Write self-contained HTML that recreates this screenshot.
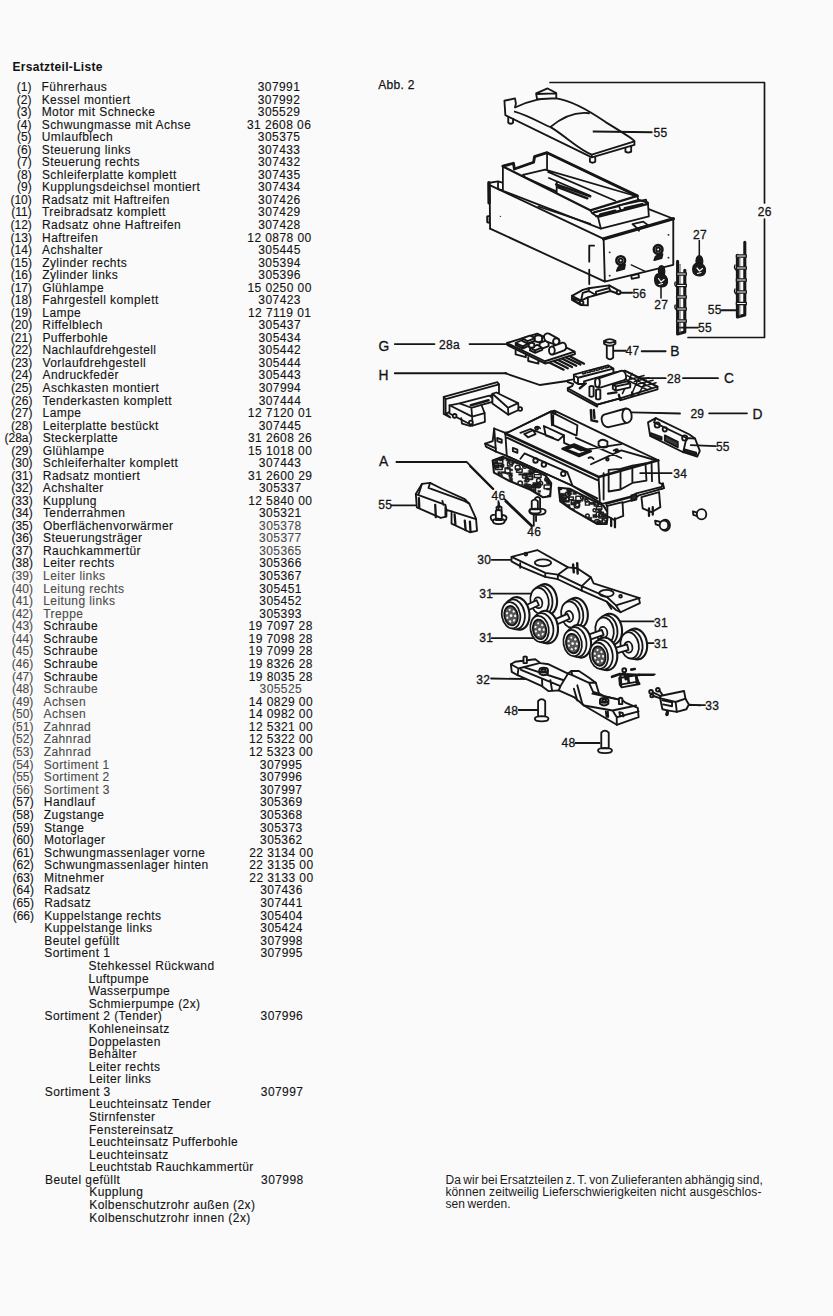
<!DOCTYPE html>
<html><head><meta charset="utf-8"><style>
html,body{margin:0;padding:0;}
body{width:833px;height:1316px;background:#fafafa;position:relative;overflow:hidden;font-family:"Liberation Sans",sans-serif;}
.p,.n,.u,.t{position:absolute;font-size:12px;line-height:14px;white-space:pre;letter-spacing:0.42px;-webkit-text-stroke:0.12px currentColor}
.p{width:100px;text-align:right;letter-spacing:0px}
.u{width:100px;text-align:center;}
.h{position:absolute;left:12.5px;top:59.5px;font-size:12px;line-height:14px;font-weight:bold;letter-spacing:0.3px;color:#111;white-space:pre}
.para div{position:absolute;left:445.5px;width:316px;font-size:12px;line-height:14px;white-space:nowrap;color:#1a1a1a;text-align:justify;text-align-last:justify;letter-spacing:0.1px;word-spacing:-1.2px}
svg{position:absolute;left:0;top:0}
</style></head><body>
<div class="h">Ersatzteil-Liste</div>
<div class="p" style="top:80.10px;left:-68.60px;color:#141414">(1)</div>
<div class="n" style="top:80.10px;left:41.60px;color:#141414">Führerhaus</div>
<div class="u" style="top:80.10px;left:229.00px;color:#141414">307991</div>
<div class="p" style="top:92.64px;left:-68.56px;color:#141414">(2)</div>
<div class="n" style="top:92.64px;left:41.64px;color:#141414">Kessel montiert</div>
<div class="u" style="top:92.64px;left:229.04px;color:#141414">307992</div>
<div class="p" style="top:105.17px;left:-68.52px;color:#141414">(3)</div>
<div class="n" style="top:105.17px;left:41.68px;color:#141414">Motor mit Schnecke</div>
<div class="u" style="top:105.17px;left:229.08px;color:#141414">305529</div>
<div class="p" style="top:117.71px;left:-68.48px;color:#141414">(4)</div>
<div class="n" style="top:117.71px;left:41.72px;color:#141414">Schwungmasse mit Achse</div>
<div class="u" style="top:117.71px;left:229.12px;color:#141414">31 2608 06</div>
<div class="p" style="top:130.25px;left:-68.44px;color:#141414">(5)</div>
<div class="n" style="top:130.25px;left:41.76px;color:#141414">Umlaufblech</div>
<div class="u" style="top:130.25px;left:229.16px;color:#141414">305375</div>
<div class="p" style="top:142.79px;left:-68.40px;color:#141414">(6)</div>
<div class="n" style="top:142.79px;left:41.80px;color:#141414">Steuerung links</div>
<div class="u" style="top:142.79px;left:229.20px;color:#141414">307433</div>
<div class="p" style="top:155.32px;left:-68.36px;color:#141414">(7)</div>
<div class="n" style="top:155.32px;left:41.84px;color:#141414">Steuerung rechts</div>
<div class="u" style="top:155.32px;left:229.24px;color:#141414">307432</div>
<div class="p" style="top:167.86px;left:-68.32px;color:#141414">(8)</div>
<div class="n" style="top:167.86px;left:41.88px;color:#141414">Schleiferplatte komplett</div>
<div class="u" style="top:167.86px;left:229.28px;color:#141414">307435</div>
<div class="p" style="top:180.40px;left:-68.29px;color:#141414">(9)</div>
<div class="n" style="top:180.40px;left:41.91px;color:#141414">Kupplungsdeichsel montiert</div>
<div class="u" style="top:180.40px;left:229.31px;color:#141414">307434</div>
<div class="p" style="top:192.94px;left:-68.25px;color:#141414">(10)</div>
<div class="n" style="top:192.94px;left:41.95px;color:#141414">Radsatz mit Haftreifen</div>
<div class="u" style="top:192.94px;left:229.35px;color:#141414">307426</div>
<div class="p" style="top:205.47px;left:-68.21px;color:#141414">(11)</div>
<div class="n" style="top:205.47px;left:41.99px;color:#141414">Treibradsatz komplett</div>
<div class="u" style="top:205.47px;left:229.39px;color:#141414">307429</div>
<div class="p" style="top:218.01px;left:-68.17px;color:#141414">(12)</div>
<div class="n" style="top:218.01px;left:42.03px;color:#141414">Radsatz ohne Haftreifen</div>
<div class="u" style="top:218.01px;left:229.43px;color:#141414">307428</div>
<div class="p" style="top:230.55px;left:-68.13px;color:#141414">(13)</div>
<div class="n" style="top:230.55px;left:42.07px;color:#141414">Haftreifen</div>
<div class="u" style="top:230.55px;left:229.47px;color:#141414">12 0878 00</div>
<div class="p" style="top:243.08px;left:-68.09px;color:#141414">(14)</div>
<div class="n" style="top:243.08px;left:42.11px;color:#141414">Achshalter</div>
<div class="u" style="top:243.08px;left:229.51px;color:#141414">305445</div>
<div class="p" style="top:255.62px;left:-68.05px;color:#141414">(15)</div>
<div class="n" style="top:255.62px;left:42.15px;color:#141414">Zylinder rechts</div>
<div class="u" style="top:255.62px;left:229.55px;color:#141414">305394</div>
<div class="p" style="top:268.16px;left:-68.01px;color:#141414">(16)</div>
<div class="n" style="top:268.16px;left:42.19px;color:#141414">Zylinder links</div>
<div class="u" style="top:268.16px;left:229.59px;color:#141414">305396</div>
<div class="p" style="top:280.70px;left:-67.97px;color:#141414">(17)</div>
<div class="n" style="top:280.70px;left:42.23px;color:#141414">Glühlampe</div>
<div class="u" style="top:280.70px;left:229.63px;color:#141414">15 0250 00</div>
<div class="p" style="top:293.23px;left:-67.94px;color:#141414">(18)</div>
<div class="n" style="top:293.23px;left:42.26px;color:#141414">Fahrgestell komplett</div>
<div class="u" style="top:293.23px;left:229.66px;color:#141414">307423</div>
<div class="p" style="top:305.77px;left:-67.90px;color:#141414">(19)</div>
<div class="n" style="top:305.77px;left:42.30px;color:#141414">Lampe</div>
<div class="u" style="top:305.77px;left:229.70px;color:#141414">12 7119 01</div>
<div class="p" style="top:318.31px;left:-67.86px;color:#141414">(20)</div>
<div class="n" style="top:318.31px;left:42.34px;color:#141414">Riffelblech</div>
<div class="u" style="top:318.31px;left:229.74px;color:#141414">305437</div>
<div class="p" style="top:330.84px;left:-67.82px;color:#141414">(21)</div>
<div class="n" style="top:330.84px;left:42.38px;color:#141414">Pufferbohle</div>
<div class="u" style="top:330.84px;left:229.78px;color:#141414">305434</div>
<div class="p" style="top:343.38px;left:-67.78px;color:#141414">(22)</div>
<div class="n" style="top:343.38px;left:42.42px;color:#141414">Nachlaufdrehgestell</div>
<div class="u" style="top:343.38px;left:229.82px;color:#141414">305442</div>
<div class="p" style="top:355.91px;left:-67.74px;color:#141414">(23)</div>
<div class="n" style="top:355.91px;left:42.46px;color:#141414">Vorlaufdrehgestell</div>
<div class="u" style="top:355.91px;left:229.86px;color:#141414">305444</div>
<div class="p" style="top:368.45px;left:-67.70px;color:#141414">(24)</div>
<div class="n" style="top:368.45px;left:42.50px;color:#141414">Andruckfeder</div>
<div class="u" style="top:368.45px;left:229.90px;color:#141414">305443</div>
<div class="p" style="top:380.98px;left:-67.66px;color:#141414">(25)</div>
<div class="n" style="top:380.98px;left:42.54px;color:#141414">Aschkasten montiert</div>
<div class="u" style="top:380.98px;left:229.94px;color:#141414">307994</div>
<div class="p" style="top:393.52px;left:-67.63px;color:#141414">(26)</div>
<div class="n" style="top:393.52px;left:42.57px;color:#141414">Tenderkasten komplett</div>
<div class="u" style="top:393.52px;left:229.97px;color:#141414">307444</div>
<div class="p" style="top:406.05px;left:-67.59px;color:#141414">(27)</div>
<div class="n" style="top:406.05px;left:42.61px;color:#141414">Lampe</div>
<div class="u" style="top:406.05px;left:230.01px;color:#141414">12 7120 01</div>
<div class="p" style="top:418.59px;left:-67.55px;color:#141414">(28)</div>
<div class="n" style="top:418.59px;left:42.65px;color:#141414">Leiterplatte bestückt</div>
<div class="u" style="top:418.59px;left:230.05px;color:#141414">307445</div>
<div class="p" style="top:431.12px;left:-67.51px;color:#141414">(28a)</div>
<div class="n" style="top:431.12px;left:42.69px;color:#141414">Steckerplatte</div>
<div class="u" style="top:431.12px;left:230.09px;color:#141414">31 2608 26</div>
<div class="p" style="top:443.66px;left:-67.47px;color:#141414">(29)</div>
<div class="n" style="top:443.66px;left:42.73px;color:#141414">Glühlampe</div>
<div class="u" style="top:443.66px;left:230.13px;color:#141414">15 1018 00</div>
<div class="p" style="top:456.19px;left:-67.43px;color:#141414">(30)</div>
<div class="n" style="top:456.19px;left:42.77px;color:#141414">Schleiferhalter komplett</div>
<div class="u" style="top:456.19px;left:230.17px;color:#141414">307443</div>
<div class="p" style="top:468.73px;left:-67.39px;color:#141414">(31)</div>
<div class="n" style="top:468.73px;left:42.81px;color:#141414">Radsatz montiert</div>
<div class="u" style="top:468.73px;left:230.21px;color:#141414">31 2600 29</div>
<div class="p" style="top:481.26px;left:-67.35px;color:#141414">(32)</div>
<div class="n" style="top:481.26px;left:42.85px;color:#141414">Achshalter</div>
<div class="u" style="top:481.26px;left:230.25px;color:#141414">305337</div>
<div class="p" style="top:493.80px;left:-67.31px;color:#141414">(33)</div>
<div class="n" style="top:493.80px;left:42.89px;color:#141414">Kupplung</div>
<div class="u" style="top:493.80px;left:230.29px;color:#141414">12 5840 00</div>
<div class="p" style="top:506.33px;left:-67.28px;color:#141414">(34)</div>
<div class="n" style="top:506.33px;left:42.92px;color:#141414">Tenderrahmen</div>
<div class="u" style="top:506.33px;left:230.32px;color:#141414">305321</div>
<div class="p" style="top:518.87px;left:-67.24px;color:#141414">(35)</div>
<div class="n" style="top:518.87px;left:42.96px;color:#141414">Oberflächenvorwärmer</div>
<div class="u" style="top:518.87px;left:230.36px;color:#4c4c4c">305378</div>
<div class="p" style="top:531.40px;left:-67.20px;color:#141414">(36)</div>
<div class="n" style="top:531.40px;left:43.00px;color:#141414">Steuerungsträger</div>
<div class="u" style="top:531.40px;left:230.40px;color:#4c4c4c">305377</div>
<div class="p" style="top:543.93px;left:-67.16px;color:#141414">(37)</div>
<div class="n" style="top:543.93px;left:43.04px;color:#141414">Rauchkammertür</div>
<div class="u" style="top:543.93px;left:230.44px;color:#4c4c4c">305365</div>
<div class="p" style="top:556.47px;left:-67.12px;color:#141414">(38)</div>
<div class="n" style="top:556.47px;left:43.08px;color:#141414">Leiter rechts</div>
<div class="u" style="top:556.47px;left:230.48px;color:#141414">305366</div>
<div class="p" style="top:569.03px;left:-67.08px;color:#4c4c4c">(39)</div>
<div class="n" style="top:569.03px;left:43.12px;color:#4c4c4c">Leiter links</div>
<div class="u" style="top:569.03px;left:230.52px;color:#141414">305367</div>
<div class="p" style="top:581.60px;left:-67.04px;color:#4c4c4c">(40)</div>
<div class="n" style="top:581.60px;left:43.16px;color:#4c4c4c">Leitung rechts</div>
<div class="u" style="top:581.60px;left:230.56px;color:#141414">305451</div>
<div class="p" style="top:594.16px;left:-67.00px;color:#4c4c4c">(41)</div>
<div class="n" style="top:594.16px;left:43.20px;color:#4c4c4c">Leitung links</div>
<div class="u" style="top:594.16px;left:230.60px;color:#141414">305452</div>
<div class="p" style="top:606.73px;left:-66.96px;color:#4c4c4c">(42)</div>
<div class="n" style="top:606.73px;left:43.24px;color:#4c4c4c">Treppe</div>
<div class="u" style="top:606.73px;left:230.64px;color:#141414">305393</div>
<div class="p" style="top:619.29px;left:-66.93px;color:#4c4c4c">(43)</div>
<div class="n" style="top:619.29px;left:43.27px;color:#141414">Schraube</div>
<div class="u" style="top:619.29px;left:230.67px;color:#141414">19 7097 28</div>
<div class="p" style="top:631.86px;left:-66.89px;color:#4c4c4c">(44)</div>
<div class="n" style="top:631.86px;left:43.31px;color:#141414">Schraube</div>
<div class="u" style="top:631.86px;left:230.71px;color:#141414">19 7098 28</div>
<div class="p" style="top:644.42px;left:-66.85px;color:#4c4c4c">(45)</div>
<div class="n" style="top:644.42px;left:43.35px;color:#141414">Schraube</div>
<div class="u" style="top:644.42px;left:230.75px;color:#141414">19 7099 28</div>
<div class="p" style="top:656.99px;left:-66.81px;color:#4c4c4c">(46)</div>
<div class="n" style="top:656.99px;left:43.39px;color:#141414">Schraube</div>
<div class="u" style="top:656.99px;left:230.79px;color:#141414">19 8326 28</div>
<div class="p" style="top:669.55px;left:-66.77px;color:#4c4c4c">(47)</div>
<div class="n" style="top:669.55px;left:43.43px;color:#141414">Schraube</div>
<div class="u" style="top:669.55px;left:230.83px;color:#141414">19 8035 28</div>
<div class="p" style="top:682.12px;left:-66.73px;color:#4c4c4c">(48)</div>
<div class="n" style="top:682.12px;left:43.47px;color:#4c4c4c">Schraube</div>
<div class="u" style="top:682.12px;left:230.87px;color:#4c4c4c">305525</div>
<div class="p" style="top:694.68px;left:-66.69px;color:#4c4c4c">(49)</div>
<div class="n" style="top:694.68px;left:43.51px;color:#4c4c4c">Achsen</div>
<div class="u" style="top:694.68px;left:230.91px;color:#141414">14 0829 00</div>
<div class="p" style="top:707.25px;left:-66.65px;color:#4c4c4c">(50)</div>
<div class="n" style="top:707.25px;left:43.55px;color:#4c4c4c">Achsen</div>
<div class="u" style="top:707.25px;left:230.95px;color:#141414">14 0982 00</div>
<div class="p" style="top:719.81px;left:-66.61px;color:#4c4c4c">(51)</div>
<div class="n" style="top:719.81px;left:43.59px;color:#4c4c4c">Zahnrad</div>
<div class="u" style="top:719.81px;left:230.99px;color:#141414">12 5321 00</div>
<div class="p" style="top:732.38px;left:-66.57px;color:#4c4c4c">(52)</div>
<div class="n" style="top:732.38px;left:43.63px;color:#4c4c4c">Zahnrad</div>
<div class="u" style="top:732.38px;left:231.03px;color:#141414">12 5322 00</div>
<div class="p" style="top:744.94px;left:-66.54px;color:#4c4c4c">(53)</div>
<div class="n" style="top:744.94px;left:43.66px;color:#4c4c4c">Zahnrad</div>
<div class="u" style="top:744.94px;left:231.06px;color:#141414">12 5323 00</div>
<div class="p" style="top:757.54px;left:-66.50px;color:#4c4c4c">(54)</div>
<div class="n" style="top:757.54px;left:43.70px;color:#4c4c4c">Sortiment 1</div>
<div class="u" style="top:757.54px;left:231.10px;color:#141414">307995</div>
<div class="p" style="top:770.13px;left:-66.46px;color:#4c4c4c">(55)</div>
<div class="n" style="top:770.13px;left:43.74px;color:#4c4c4c">Sortiment 2</div>
<div class="u" style="top:770.13px;left:231.14px;color:#141414">307996</div>
<div class="p" style="top:782.73px;left:-66.42px;color:#4c4c4c">(56)</div>
<div class="n" style="top:782.73px;left:43.78px;color:#4c4c4c">Sortiment 3</div>
<div class="u" style="top:782.73px;left:231.18px;color:#141414">307997</div>
<div class="p" style="top:795.32px;left:-66.38px;color:#141414">(57)</div>
<div class="n" style="top:795.32px;left:43.82px;color:#141414">Handlauf</div>
<div class="u" style="top:795.32px;left:231.22px;color:#141414">305369</div>
<div class="p" style="top:807.92px;left:-66.34px;color:#141414">(58)</div>
<div class="n" style="top:807.92px;left:43.86px;color:#141414">Zugstange</div>
<div class="u" style="top:807.92px;left:231.26px;color:#141414">305368</div>
<div class="p" style="top:820.51px;left:-66.30px;color:#141414">(59)</div>
<div class="n" style="top:820.51px;left:43.90px;color:#141414">Stange</div>
<div class="u" style="top:820.51px;left:231.30px;color:#141414">305373</div>
<div class="p" style="top:833.11px;left:-66.26px;color:#141414">(60)</div>
<div class="n" style="top:833.11px;left:43.94px;color:#141414">Motorlager</div>
<div class="u" style="top:833.11px;left:231.34px;color:#141414">305362</div>
<div class="p" style="top:845.70px;left:-66.22px;color:#141414">(61)</div>
<div class="n" style="top:845.70px;left:43.98px;color:#141414">Schwungmassenlager vorne</div>
<div class="u" style="top:845.70px;left:231.38px;color:#141414">22 3134 00</div>
<div class="p" style="top:858.29px;left:-66.18px;color:#141414">(62)</div>
<div class="n" style="top:858.29px;left:44.02px;color:#141414">Schwungmassenlager hinten</div>
<div class="u" style="top:858.29px;left:231.42px;color:#141414">22 3135 00</div>
<div class="p" style="top:870.89px;left:-66.15px;color:#141414">(63)</div>
<div class="n" style="top:870.89px;left:44.05px;color:#141414">Mitnehmer</div>
<div class="u" style="top:870.89px;left:231.45px;color:#141414">22 3133 00</div>
<div class="p" style="top:883.48px;left:-66.11px;color:#141414">(64)</div>
<div class="n" style="top:883.48px;left:44.09px;color:#141414">Radsatz</div>
<div class="u" style="top:883.48px;left:231.49px;color:#141414">307436</div>
<div class="p" style="top:896.08px;left:-66.07px;color:#141414">(65)</div>
<div class="n" style="top:896.08px;left:44.13px;color:#141414">Radsatz</div>
<div class="u" style="top:896.08px;left:231.53px;color:#141414">307441</div>
<div class="p" style="top:908.67px;left:-66.03px;color:#141414">(66)</div>
<div class="n" style="top:908.67px;left:44.17px;color:#141414">Kuppelstange rechts</div>
<div class="u" style="top:908.67px;left:231.57px;color:#141414">305404</div>
<div class="n" style="top:921.27px;left:44.21px;color:#141414">Kuppelstange links</div>
<div class="u" style="top:921.27px;left:231.61px;color:#141414">305424</div>
<div class="n" style="top:933.86px;left:44.25px;color:#141414">Beutel gefüllt</div>
<div class="u" style="top:933.86px;left:231.65px;color:#141414">307998</div>
<div class="n" style="top:946.46px;left:44.29px;color:#141414">Sortiment 1</div>
<div class="u" style="top:946.46px;left:231.69px;color:#141414">307995</div>
<div class="n" style="top:959.05px;left:88.53px;color:#141414">Stehkessel Rückwand</div>
<div class="n" style="top:971.63px;left:88.57px;color:#141414">Luftpumpe</div>
<div class="n" style="top:984.21px;left:88.61px;color:#141414">Wasserpumpe</div>
<div class="n" style="top:996.79px;left:88.65px;color:#141414">Schmierpumpe (2x)</div>
<div class="n" style="top:1009.37px;left:44.48px;color:#141414">Sortiment 2 (Tender)</div>
<div class="u" style="top:1009.37px;left:231.88px;color:#141414">307996</div>
<div class="n" style="top:1021.95px;left:88.72px;color:#141414">Kohleneinsatz</div>
<div class="n" style="top:1034.53px;left:88.76px;color:#141414">Doppelasten</div>
<div class="n" style="top:1047.11px;left:88.80px;color:#141414">Behälter</div>
<div class="n" style="top:1059.69px;left:88.84px;color:#141414">Leiter rechts</div>
<div class="n" style="top:1072.27px;left:88.88px;color:#141414">Leiter links</div>
<div class="n" style="top:1084.85px;left:44.72px;color:#141414">Sortiment 3</div>
<div class="u" style="top:1084.85px;left:232.12px;color:#141414">307997</div>
<div class="n" style="top:1097.43px;left:88.96px;color:#141414">Leuchteinsatz Tender</div>
<div class="n" style="top:1110.01px;left:89.00px;color:#141414">Stirnfenster</div>
<div class="n" style="top:1122.59px;left:89.04px;color:#141414">Fenstereinsatz</div>
<div class="n" style="top:1135.17px;left:89.07px;color:#141414">Leuchteinsatz Pufferbohle</div>
<div class="n" style="top:1147.75px;left:89.11px;color:#141414">Leuchteinsatz</div>
<div class="n" style="top:1160.33px;left:89.15px;color:#141414">Leuchtstab Rauchkammertür</div>
<div class="n" style="top:1172.91px;left:44.99px;color:#141414">Beutel gefüllt</div>
<div class="u" style="top:1172.91px;left:232.39px;color:#141414">307998</div>
<div class="n" style="top:1185.49px;left:89.23px;color:#141414">Kupplung</div>
<div class="n" style="top:1198.07px;left:89.27px;color:#141414">Kolbenschutzrohr außen (2x)</div>
<div class="n" style="top:1210.65px;left:89.31px;color:#141414">Kolbenschutzrohr innen (2x)</div>
<div class="para">
<div style="top:1172.5px">Da wir bei Ersatzteilen z. T. von Zulieferanten abhängig sind,</div>
<div style="top:1184.9px">können zeitweilig Lieferschwierigkeiten nicht ausgeschlos-</div>
<div style="top:1197.3px;text-align-last:left;width:auto">sen werden.</div>
</div>
<svg width="833" height="1316" viewBox="0 0 833 1316">
<g font-family="Liberation Sans" font-size="12" fill="#141414" stroke="#141414" stroke-width="0.25" letter-spacing="0.3">
<text x="378.3" y="89.4">Abb. 2</text>
</g>
<g fill="none" stroke="#161616" stroke-width="1.69" stroke-linejoin="round" stroke-linecap="round">
<!-- bracket 26 -->
<path d="M550,82.5 L764.5,82.5 L764.5,203 M764.5,219 L764.5,337.5 L688,337.5"/>
</g>
<!-- shell 55, zoom A origin 490,70 s 5.206 -->
<g transform="translate(490,70) scale(0.19208)" fill="none" stroke="#161616" stroke-width="1.84" vector-effect="non-scaling-stroke" stroke-linejoin="round">
<path vector-effect="non-scaling-stroke" fill="#fafafa" d="M75,160 L130,148 L135,175 L130,195 C 200,160 290,140 345,148 C 430,160 520,215 600,270 C 680,320 740,355 752,370 L752,390 L530,455 L80,235 Z"/>
<path vector-effect="non-scaling-stroke" d="M125,215 C 210,240 270,280 320,300 C 400,350 470,420 530,440 L752,372 M530,440 L530,455 M310,300 C 380,240 450,215 520,225"/>
<path vector-effect="non-scaling-stroke" fill="#fafafa" d="M240,122 L300,96 L345,120 L345,147 L245,152 Z M245,125 L345,122"/>
<path vector-effect="non-scaling-stroke" d="M95,245 L95,275 Q108,285 120,275 L120,250 M520,456 L520,478 Q534,488 548,478 L548,450 M705,405 L705,425 Q720,435 735,425 L735,395"/>
<path vector-effect="non-scaling-stroke" d="M535,320 L846,324"/>
</g>

<!-- box, zoom B origin 480,140 s 4.165 -->
<g transform="translate(480,140) scale(0.24010)" fill="none" stroke="#161616" stroke-linejoin="round" stroke-linecap="round">
<g stroke-width="1.84">
<path vector-effect="non-scaling-stroke" d="M45,190 L515,412 L805,328 L805,520 L520,590 L42,369 M515,412 L520,590 M805,328 L695,285"/>
<path vector-effect="non-scaling-stroke" stroke-width="3.37" d="M37,178 L38,262 M515,412 L805,328"/>
<path vector-effect="non-scaling-stroke" d="M40,178 L42,369 M30,318 L40,316 L40,345 L30,343 Z M40,178 L75,172 L122,186 L125,216 M75,174 L75,205 L125,216"/>
<path vector-effect="non-scaling-stroke" d="M635,350 L680,340 L700,355 L655,368 Z M660,368 L662,378"/>
<path vector-effect="non-scaling-stroke" d="M455,440 L475,440 M455,440 L455,600" stroke-dasharray="16 8"/>
<circle vector-effect="non-scaling-stroke" stroke-width="2.60" fill="#fafafa" cx="586" cy="502" r="18"/>
<circle vector-effect="non-scaling-stroke" stroke-width="1.89" cx="586" cy="502" r="8"/>
<circle vector-effect="non-scaling-stroke" stroke-width="2.60" fill="#fafafa" cx="742" cy="456" r="18"/>
<circle vector-effect="non-scaling-stroke" stroke-width="1.89" cx="742" cy="456" r="8"/>
<path vector-effect="non-scaling-stroke" fill="#1e1e1e" d="M570,545 L600,537 L604,520 L590,522 L576,530 Z M726,500 L756,492 L760,475 L746,477 L732,485 Z"/>
<path vector-effect="non-scaling-stroke" stroke-width="1.38" d="M630,520 L690,548"/>
<path vector-effect="non-scaling-stroke" d="M630,565 L660,558 L662,572 L632,578 Z"/>
</g>
<g fill="#1e1e1e" stroke="none">
<circle cx="540" cy="468" r="4"/><circle cx="785" cy="395" r="4"/><circle cx="785" cy="490" r="4"/><circle cx="540" cy="565" r="4"/>
<circle cx="85" cy="318" r="3"/>
</g>
</g>
<!-- tray T origin 500,145 f .19208 -->
<g transform="translate(500,145) scale(0.19208)" fill="none" stroke="#161616" stroke-linejoin="round" stroke-linecap="round">
<g stroke-width="1.77">
<path vector-effect="non-scaling-stroke" fill="#fafafa" d="M15,110 L70,95 L75,125 L175,90 L180,60 L245,40 L715,265 L720,285 L770,300 L775,372 L525,435 L15,238 Z"/>
<path vector-effect="non-scaling-stroke" stroke-width="2.83" d="M15,110 L70,95 L75,125 L175,90 L180,60 L245,40 L715,265"/>
<path vector-effect="non-scaling-stroke" stroke-width="2.24" d="M15,112 L470,340 L715,265"/>
<path vector-effect="non-scaling-stroke" d="M480,355 L720,285 M510,375 L770,308 M525,435 L510,375 L480,355 L470,340 M720,285 L770,300"/>
<path vector-effect="non-scaling-stroke" d="M490,350 L620,318 L628,340 L500,372 M615,316 L760,284 L765,306 L626,340"/>
<path vector-effect="non-scaling-stroke" stroke-width="2.60" d="M522,362 L600,343 M650,330 L740,308"/>
<path vector-effect="non-scaling-stroke" d="M120,155 L235,128 L715,268 M245,40 L245,130 M120,155 L130,168 L290,240 M295,195 L295,248 M250,140 L600,290 M255,172 L470,265 M200,320 L470,410"/>
<path vector-effect="non-scaling-stroke" stroke-width="2.36" d="M292,205 L470,268 M300,220 L455,278"/>
</g>
</g>
<!-- ladders & lamps, zoom F origin 640,220 s 5.95 -->
<g transform="translate(640,220) scale(0.16807)" fill="none" stroke="#161616" stroke-linejoin="round" stroke-linecap="round">
<g stroke-width="1.84">
<path vector-effect="non-scaling-stroke" d="M222,640 L345,640 M485,537 L578,537"/>
</g>
</g>
<g fill="none" stroke="#161616" stroke-linecap="round" stroke-linejoin="round">
<path d="M677.6,261.2 L677.6,334.0 L684.8,332.0 L684.8,270.2" stroke-width="3.07"/>
<path d="M680.0,264.2 L680.0,333.0" stroke-width="1.06" stroke="#555"/>
<rect x="676.6" y="272.8" width="9.699999999999932" height="2.4" fill="#fafafa" stroke-width="1.30"/>
<rect x="676.6" y="284.3" width="9.699999999999932" height="2.4" fill="#fafafa" stroke-width="1.30"/>
<rect x="676.6" y="295.8" width="9.699999999999932" height="2.4" fill="#fafafa" stroke-width="1.30"/>
<rect x="676.6" y="307.8" width="9.699999999999932" height="2.4" fill="#fafafa" stroke-width="1.30"/>
<rect x="676.6" y="319.8" width="9.699999999999932" height="2.4" fill="#fafafa" stroke-width="1.30"/>
<path d="M737.4,255.2 L737.4,317.0 L744.8,315.0 L744.8,242.2" stroke-width="3.07"/>
<path d="M739.8,258.2 L739.8,316.0" stroke-width="1.06" stroke="#555"/>
<rect x="736.4" y="254.8" width="9.899999999999977" height="2.4" fill="#fafafa" stroke-width="1.30"/>
<rect x="736.4" y="266.8" width="9.899999999999977" height="2.4" fill="#fafafa" stroke-width="1.30"/>
<rect x="736.4" y="278.8" width="9.899999999999977" height="2.4" fill="#fafafa" stroke-width="1.30"/>
<rect x="736.4" y="290.8" width="9.899999999999977" height="2.4" fill="#fafafa" stroke-width="1.30"/>
<rect x="736.4" y="302.3" width="9.899999999999977" height="2.4" fill="#fafafa" stroke-width="1.30"/>
<path d="M675.2,282 Q674,285 676.5,287 M675.2,305 Q674,308 676.5,310 M735,265 Q733.5,268 736,270 M735,289 Q733.5,292 736,294" stroke-width="1.30"/>
<path d="M699.3,240.5 L699.3,256 M661,286 L661,298" stroke-width="1.53"/>
<path d="M696.5,264 C695,259 697,255.5 699.3,255.5 C701.8,255.5 703.5,259 702.5,264 Z" fill="#1a1a1a" stroke-width="1.18"/>
<path d="M695.5,263.5 C691.5,266 692,273 695.5,275 C699,277 704.5,276 705.5,271.5 C706.5,267 703,263.5 699.5,263 C698,263 696.5,263 695.5,263.5 Z" fill="#1a1a1a" stroke-width="1.18"/>
<path d="M697,268 L699.5,271 L702.5,268.5 M697.5,273.5 L701,272.5" stroke="#fafafa" stroke-width="1.18"/>
<path d="M659,274.5 C657.5,269 659,265.5 661.5,265.5 C664,265.5 665.5,269 664.5,274.5 Z" fill="#1a1a1a" stroke-width="1.18"/>
<path d="M657,274 C653.5,276.5 654,284 657.5,286 C661,288 666.5,287 667.5,282.5 C668.5,278 665,274 661.5,273.5 C660,273.5 658,273.5 657,274 Z" fill="#1a1a1a" stroke-width="1.18"/>
<path d="M658.5,278.5 L661,282 L664,279.5 M659,284.5 L662.5,283.5" stroke="#fafafa" stroke-width="1.18"/>
</g>
<!-- part 56 origin 560,270 f .12005 -->
<g transform="translate(560,270) scale(0.12005)" fill="none" stroke="#161616" stroke-linejoin="round" stroke-linecap="round">
<g stroke-width="1.9">
<path vector-effect="non-scaling-stroke" fill="#fafafa" d="M100,215 L190,165 L240,152 L410,128 L482,168 L490,200 L420,175 L300,208 L232,228 L232,295 L175,292 L100,250 Z"/>
<path vector-effect="non-scaling-stroke" d="M100,215 L175,255 L232,228 M175,255 L175,292 M240,152 L240,175 L300,208 M240,175 L190,190 L175,255 M300,208 L300,180 L410,150 L420,175 M410,128 L410,150"/>
<path vector-effect="non-scaling-stroke" d="M112,238 L178,260 M112,252 L170,282"/>
<circle vector-effect="non-scaling-stroke" fill="#fafafa" cx="180" cy="272" r="15"/>
<circle vector-effect="non-scaling-stroke" fill="#fafafa" cx="488" cy="186" r="16"/>
<path vector-effect="non-scaling-stroke" d="M505,190 L600,190"/>
</g>
</g>
<g fill="none" stroke="#161616" stroke-width="1.84" stroke-linecap="round">
<path d="M505,373.2 L540,385 L567,381 M683,378.2 L718,378.2"/>
</g>
<!-- M1 boards: origin 490,320 f .22810 -->
<g transform="translate(490,320) scale(0.22810)" fill="none" stroke="#161616" stroke-linejoin="round" stroke-linecap="round">
<g stroke-width="1.84">
<!-- screw 47 -->
<path vector-effect="non-scaling-stroke" fill="#fafafa" d="M512,110 L512,165 Q526,180 540,165 L540,110"/>
<path vector-effect="non-scaling-stroke" fill="#fafafa" d="M500,92 L500,104 Q525,122 550,104 L550,92 Q525,76 500,92 Z M500,92 Q525,108 550,92"/>
<path vector-effect="non-scaling-stroke" d="M545,135 L595,135 M665,137 L770,137"/>
<path vector-effect="non-scaling-stroke" d="M540,255 L770,255"/>
<!-- motor 29 -->
<path vector-effect="non-scaling-stroke" fill="#fafafa" d="M500,415 L595,388 C625,388 630,440 605,450 L520,470 C490,470 480,425 500,415 Z M595,388 C575,398 575,440 595,450"/>
<path vector-effect="non-scaling-stroke" stroke-width="2.45" d="M442,395 L445,440 L470,445 M455,395 L458,430"/>
<path vector-effect="non-scaling-stroke" d="M620,405 L833,410"/>
</g>
</g>
<!-- board 28a Z origin 500,325 f .12005 -->
<g transform="translate(500,325) scale(0.12005)" fill="none" stroke="#161616" stroke-linejoin="round" stroke-linecap="round">
<g stroke-width="1.89">
<path vector-effect="non-scaling-stroke" stroke-width="2.24" d="M410,312 L530,372 M445,300 L565,360 M480,290 L600,350 M515,280 L635,340 M550,270 L670,330 M585,262 L700,322"/>
<path vector-effect="non-scaling-stroke" fill="#fafafa" d="M130,212 L130,245 L215,268 L215,240 M235,268 L235,300 L320,322 L320,295"/>
<path vector-effect="non-scaling-stroke" fill="#fafafa" d="M58,150 L310,72 L622,222 L625,242 L378,322 L62,168 Z M58,150 L375,302 L622,222 M375,302 L378,322"/>
<path vector-effect="non-scaling-stroke" fill="#fafafa" d="M130,150 L185,125 L240,150 L240,172 L190,196 L132,168 Z M132,150 L190,178 L240,152 M190,178 L190,196"/>
<path vector-effect="non-scaling-stroke" fill="#fafafa" d="M185,112 L250,88 L292,108 L292,130 L230,155 L185,132 Z M185,112 L230,135 L292,110 M230,135 L230,155"/>
<path vector-effect="non-scaling-stroke" fill="#fafafa" d="M250,190 L310,165 L352,185 L352,208 L292,232 L250,212 Z M250,190 L292,212 L352,187 M292,212 L292,232"/>
<path vector-effect="non-scaling-stroke" fill="#fafafa" d="M290,95 Q320,75 350,95 L350,135 Q320,150 290,135 Z"/>
<path vector-effect="non-scaling-stroke" fill="#fafafa" d="M240,160 Q260,140 285,155 L285,185 Q262,195 240,182 Z"/>
<path vector-effect="non-scaling-stroke" fill="#fafafa" d="M330,150 L380,130 L405,150 L405,175 L355,195 L330,175 Z"/>
<path vector-effect="non-scaling-stroke" fill="#fafafa" d="M368,112 C358,82 385,65 408,72 L480,112 C505,125 500,162 468,165 L395,140 C380,135 372,125 368,112 Z"/>
<ellipse vector-effect="non-scaling-stroke" fill="#fafafa" cx="468" cy="138" rx="26" ry="28"/>
<path vector-effect="non-scaling-stroke" fill="#fafafa" d="M425,182 L515,148 C550,140 565,195 535,212 L445,245 C415,245 405,195 425,182 Z"/>
<ellipse vector-effect="non-scaling-stroke" fill="#fafafa" cx="432" cy="213" rx="24" ry="33"/>
</g>
</g>
<!-- board 28 W origin 560,360 f .12005 -->
<g transform="translate(560,360) scale(0.12005)" fill="none" stroke="#161616" stroke-linejoin="round" stroke-linecap="round">
<g stroke-width="1.89">
<path vector-effect="non-scaling-stroke" fill="#fafafa" d="M65,170 L540,88 L812,222 L812,245 L500,336 L500,320 L310,372 L310,388 L65,255 L65,235 L100,218 L110,200 L65,185 Z"/>
<path vector-effect="non-scaling-stroke" d="M65,235 L310,372 M500,320 L812,222 M310,372 L500,320"/>
<path vector-effect="non-scaling-stroke" stroke-width="1.53" d="M560,100 L812,222 M590,160 L700,130 M620,180 L740,148 M650,200 L775,168 M680,222 L800,190 M560,130 L760,230 M545,160 L730,250 M600,110 L520,280 M660,140 L590,300 M720,170 L650,290"/>
<path vector-effect="non-scaling-stroke" fill="#fafafa" d="M440,205 L560,178 L585,195 L585,228 L465,255 L440,240 Z M440,205 L465,220 L585,195 M465,220 L465,255"/>
<path vector-effect="non-scaling-stroke" fill="#fafafa" d="M115,122 L400,45 L445,72 L445,108 L200,178 L200,200 L150,200 L118,180 Z M115,122 L150,148 L445,72 M150,148 L150,200"/>
<path vector-effect="non-scaling-stroke" fill="#fafafa" stroke-width="1.42" d="M185,103 L210,96 L215,110 L190,117 Z"/><path vector-effect="non-scaling-stroke" fill="#fafafa" stroke-width="1.42" d="M223,93 L248,86 L253,100 L228,107 Z"/><path vector-effect="non-scaling-stroke" fill="#fafafa" stroke-width="1.42" d="M261,83 L286,76 L291,90 L266,97 Z"/><path vector-effect="non-scaling-stroke" fill="#fafafa" stroke-width="1.42" d="M299,73 L324,66 L329,80 L304,87 Z"/><path vector-effect="non-scaling-stroke" fill="#fafafa" stroke-width="1.42" d="M337,63 L362,56 L367,70 L342,77 Z"/><path vector-effect="non-scaling-stroke" fill="#fafafa" stroke-width="1.42" d="M375,53 L400,46 L405,60 L380,67 Z"/>
<path vector-effect="non-scaling-stroke" fill="#fafafa" d="M310,158 L515,88 C555,95 560,160 535,168 L335,230 C300,235 285,170 310,158 Z"/>
<ellipse vector-effect="non-scaling-stroke" fill="#fafafa" cx="312" cy="188" rx="20" ry="38"/>
<path vector-effect="non-scaling-stroke" fill="#fafafa" d="M245,222 Q262,210 280,222 L280,300 Q262,312 245,300 Z M300,250 Q318,238 336,250 L336,322 Q318,334 300,322 Z"/>
<path vector-effect="non-scaling-stroke" stroke-width="2.36" d="M165,235 L215,195 M400,280 L470,270 M490,290 L500,320 M600,270 L605,295"/>
</g>
</g>
<!-- M2 origin 375,330 f .18008 -->
<g transform="translate(375,330) scale(0.18008)" fill="none" stroke="#161616" stroke-linejoin="round" stroke-linecap="round">
<g stroke-width="1.84">
<path vector-effect="non-scaling-stroke" d="M110,78 L330,78 M525,78 L735,78 M110,240 L730,240"/>
</g>
</g>
<!-- aschkasten R origin 430,380 f .15606 -->
<g transform="translate(430,380) scale(0.15606)" fill="none" stroke="#161616" stroke-linejoin="round" stroke-linecap="round">
<g stroke-width="1.8">
<path vector-effect="non-scaling-stroke" fill="#fafafa" d="M88,108 L432,14 L442,28 L442,82 L400,95 L100,215 L130,240 L88,218 Z"/>
<path vector-effect="non-scaling-stroke" d="M100,122 L442,28 M100,122 L100,212 M88,108 L100,122"/>
<path vector-effect="non-scaling-stroke" fill="#fafafa" d="M190,150 L380,100 L402,118 L400,140 L330,160 L350,212 L352,268 L272,292 L125,215 L125,162 Z"/>
<path vector-effect="non-scaling-stroke" d="M125,162 L270,235 L350,212 M270,235 L272,292 M190,150 L265,178 L330,160 M265,178 L270,235"/>
<path vector-effect="non-scaling-stroke" stroke-width="2.6" d="M262,162 L375,130"/>
<path vector-effect="non-scaling-stroke" fill="#fafafa" d="M400,88 L425,80 L565,148 L568,192 L502,222 L400,150 Z"/>
<path vector-effect="non-scaling-stroke" d="M400,88 L500,178 L565,148 M500,178 L502,222"/>
<circle vector-effect="non-scaling-stroke" fill="#fafafa" cx="158" cy="230" r="12"/>
<circle vector-effect="non-scaling-stroke" fill="#fafafa" cx="262" cy="272" r="12"/>
<circle vector-effect="non-scaling-stroke" fill="#fafafa" cx="578" cy="186" r="12"/>
<path vector-effect="non-scaling-stroke" d="M200,245 L205,280 L262,295"/>
</g>
</g>
<!-- M3 frame origin 470,400 f .25210 -->
<g transform="translate(470,400) scale(0.25210)" fill="none" stroke="#161616" stroke-linejoin="round" stroke-linecap="round">
<g stroke-width="1.84">
<!-- undercarriage dark -->
<defs><clipPath id="ucL"><path d="M90,240 L130,225 L200,255 L300,300 L322,330 L318,382 L290,386 L240,356 L150,318 L95,288 Z"/></clipPath><clipPath id="ucR"><path d="M352,348 L395,352 L530,420 L548,448 L542,492 L505,492 L400,432 L358,402 Z"/></clipPath></defs>
<path vector-effect="non-scaling-stroke" fill="#fafafa" stroke-width="2.12" d="M90,240 L130,225 L200,255 L300,300 L322,330 L318,382 L290,386 L240,356 L150,318 L95,288 Z"/>
<g clip-path="url(#ucL)"><circle cx="234" cy="346" r="11" fill="none" stroke="#1e1e1e" stroke-width="5.90"/><rect x="263" y="377" width="15" height="14" fill="#1e1e1e"/><rect x="241" y="373" width="15" height="8" fill="#1e1e1e"/><rect x="216" y="318" width="11" height="8" fill="#1e1e1e"/><rect x="305" y="350" width="19" height="7" fill="#1e1e1e"/><rect x="233" y="242" width="20" height="8" fill="#1e1e1e"/><rect x="137" y="387" width="19" height="20" fill="none" stroke="#1e1e1e" stroke-width="5.90"/><rect x="214" y="335" width="21" height="12" fill="#1e1e1e"/><rect x="317" y="372" width="13" height="7" fill="#1e1e1e"/><rect x="120" y="231" width="16" height="6" fill="#1e1e1e"/><rect x="248" y="277" width="19" height="10" fill="#1e1e1e"/><circle cx="161" cy="302" r="5" fill="none" stroke="#1e1e1e" stroke-width="5.90"/><circle cx="319" cy="224" r="10" fill="none" stroke="#1e1e1e" stroke-width="5.90"/><rect x="89" y="354" width="16" height="6" fill="#1e1e1e"/><rect x="96" y="251" width="17" height="18" fill="none" stroke="#1e1e1e" stroke-width="5.90"/><rect x="308" y="380" width="13" height="10" fill="#1e1e1e"/><circle cx="271" cy="238" r="10" fill="none" stroke="#1e1e1e" stroke-width="5.90"/><rect x="291" y="226" width="15" height="13" fill="none" stroke="#1e1e1e" stroke-width="5.90"/><rect x="232" y="376" width="21" height="10" fill="#1e1e1e"/><rect x="160" y="274" width="9" height="7" fill="#1e1e1e"/><rect x="250" y="389" width="9" height="14" fill="#1e1e1e"/><rect x="213" y="289" width="16" height="13" fill="#1e1e1e"/><rect x="194" y="292" width="21" height="6" fill="#1e1e1e"/><rect x="203" y="363" width="18" height="14" fill="#1e1e1e"/><rect x="236" y="354" width="14" height="7" fill="#1e1e1e"/><rect x="288" y="270" width="22" height="13" fill="#1e1e1e"/><rect x="319" y="297" width="18" height="10" fill="#1e1e1e"/><rect x="155" y="289" width="13" height="14" fill="#1e1e1e"/><rect x="315" y="327" width="13" height="7" fill="#1e1e1e"/><rect x="150" y="353" width="20" height="18" fill="none" stroke="#1e1e1e" stroke-width="5.90"/><circle cx="271" cy="338" r="10" fill="none" stroke="#1e1e1e" stroke-width="5.90"/><rect x="172" y="340" width="15" height="12" fill="#1e1e1e"/><rect x="251" y="270" width="24" height="16" fill="none" stroke="#1e1e1e" stroke-width="5.90"/><rect x="88" y="313" width="17" height="10" fill="#1e1e1e"/><circle cx="281" cy="330" r="7" fill="none" stroke="#1e1e1e" stroke-width="5.90"/><rect x="240" y="345" width="20" height="18" fill="none" stroke="#1e1e1e" stroke-width="5.90"/><rect x="294" y="337" width="29" height="15" fill="none" stroke="#1e1e1e" stroke-width="5.90"/><rect x="212" y="248" width="29" height="15" fill="none" stroke="#1e1e1e" stroke-width="5.90"/><circle cx="251" cy="342" r="6" fill="none" stroke="#1e1e1e" stroke-width="5.90"/><circle cx="272" cy="319" r="8" fill="none" stroke="#1e1e1e" stroke-width="5.90"/><circle cx="235" cy="352" r="9" fill="none" stroke="#1e1e1e" stroke-width="5.90"/><rect x="92" y="247" width="17" height="8" fill="#1e1e1e"/><rect x="250" y="327" width="15" height="8" fill="#1e1e1e"/><rect x="98" y="243" width="11" height="8" fill="#1e1e1e"/><rect x="94" y="299" width="17" height="11" fill="#1e1e1e"/><rect x="142" y="374" width="14" height="8" fill="#1e1e1e"/><rect x="183" y="240" width="20" height="10" fill="none" stroke="#1e1e1e" stroke-width="5.90"/><circle cx="232" cy="236" r="7" fill="none" stroke="#1e1e1e" stroke-width="5.90"/><rect x="224" y="383" width="21" height="18" fill="none" stroke="#1e1e1e" stroke-width="5.90"/><rect x="239" y="283" width="16" height="11" fill="#1e1e1e"/><circle cx="315" cy="385" r="7" fill="none" stroke="#1e1e1e" stroke-width="5.90"/><rect x="299" y="220" width="16" height="11" fill="#1e1e1e"/><rect x="119" y="327" width="20" height="14" fill="none" stroke="#1e1e1e" stroke-width="5.90"/><rect x="139" y="270" width="20" height="20" fill="none" stroke="#1e1e1e" stroke-width="5.90"/><rect x="304" y="321" width="22" height="10" fill="#1e1e1e"/><rect x="185" y="274" width="22" height="13" fill="none" stroke="#1e1e1e" stroke-width="5.90"/><circle cx="199" cy="241" r="8" fill="none" stroke="#1e1e1e" stroke-width="5.90"/><rect x="155" y="353" width="14" height="15" fill="none" stroke="#1e1e1e" stroke-width="5.90"/><circle cx="151" cy="379" r="6" fill="none" stroke="#1e1e1e" stroke-width="5.90"/><rect x="149" y="246" width="19" height="16" fill="none" stroke="#1e1e1e" stroke-width="5.90"/><circle cx="199" cy="330" r="9" fill="none" stroke="#1e1e1e" stroke-width="5.90"/><rect x="113" y="349" width="15" height="9" fill="#1e1e1e"/><rect x="156" y="310" width="13" height="12" fill="#1e1e1e"/><rect x="227" y="226" width="14" height="13" fill="#1e1e1e"/><rect x="298" y="313" width="19" height="9" fill="#1e1e1e"/><circle cx="223" cy="340" r="8" fill="none" stroke="#1e1e1e" stroke-width="5.90"/><rect x="304" y="286" width="20" height="8" fill="#1e1e1e"/><rect x="156" y="361" width="20" height="12" fill="#1e1e1e"/><circle cx="189" cy="269" r="10" fill="none" stroke="#1e1e1e" stroke-width="5.90"/><circle cx="119" cy="301" r="8" fill="none" stroke="#1e1e1e" stroke-width="5.90"/><circle cx="164" cy="246" r="10" fill="none" stroke="#1e1e1e" stroke-width="5.90"/><rect x="101" y="259" width="27" height="17" fill="none" stroke="#1e1e1e" stroke-width="5.90"/><rect x="91" y="343" width="30" height="17" fill="none" stroke="#1e1e1e" stroke-width="5.90"/><rect x="97" y="363" width="17" height="14" fill="#1e1e1e"/><rect x="256" y="243" width="21" height="7" fill="#1e1e1e"/><rect x="232" y="290" width="17" height="6" fill="#1e1e1e"/><rect x="111" y="284" width="9" height="11" fill="#1e1e1e"/><rect x="263" y="369" width="14" height="9" fill="#1e1e1e"/><rect x="229" y="303" width="20" height="11" fill="none" stroke="#1e1e1e" stroke-width="5.90"/><circle cx="252" cy="246" r="8" fill="none" stroke="#1e1e1e" stroke-width="5.90"/><circle cx="304" cy="314" r="7" fill="none" stroke="#1e1e1e" stroke-width="5.90"/><circle cx="217" cy="263" r="8" fill="none" stroke="#1e1e1e" stroke-width="5.90"/><rect x="117" y="260" width="18" height="7" fill="#1e1e1e"/><rect x="256" y="331" width="17" height="7" fill="#1e1e1e"/><rect x="115" y="321" width="20" height="10" fill="#1e1e1e"/><rect x="163" y="355" width="18" height="6" fill="#1e1e1e"/><circle cx="121" cy="382" r="6" fill="none" stroke="#1e1e1e" stroke-width="5.90"/><circle cx="113" cy="385" r="10" fill="none" stroke="#1e1e1e" stroke-width="5.90"/><rect x="119" y="326" width="11" height="9" fill="#1e1e1e"/><rect x="232" y="279" width="10" height="13" fill="#1e1e1e"/><rect x="240" y="357" width="20" height="10" fill="#1e1e1e"/><circle cx="227" cy="317" r="7" fill="none" stroke="#1e1e1e" stroke-width="5.90"/><rect x="108" y="226" width="9" height="13" fill="#1e1e1e"/><rect x="200" y="349" width="15" height="13" fill="#1e1e1e"/><rect x="234" y="293" width="9" height="7" fill="#1e1e1e"/><rect x="123" y="284" width="20" height="7" fill="#1e1e1e"/><rect x="146" y="267" width="12" height="8" fill="#1e1e1e"/><rect x="201" y="225" width="20" height="19" fill="none" stroke="#1e1e1e" stroke-width="5.90"/><rect x="250" y="335" width="21" height="7" fill="#1e1e1e"/><circle cx="245" cy="269" r="9" fill="none" stroke="#1e1e1e" stroke-width="5.90"/><rect x="124" y="254" width="11" height="7" fill="#1e1e1e"/><rect x="181" y="386" width="12" height="10" fill="#1e1e1e"/><circle cx="153" cy="344" r="6" fill="none" stroke="#1e1e1e" stroke-width="5.90"/><rect x="143" y="334" width="24" height="14" fill="none" stroke="#1e1e1e" stroke-width="5.90"/><rect x="319" y="221" width="19" height="9" fill="#1e1e1e"/><rect x="96" y="313" width="22" height="14" fill="none" stroke="#1e1e1e" stroke-width="5.90"/><rect x="108" y="232" width="22" height="19" fill="none" stroke="#1e1e1e" stroke-width="5.90"/><rect x="98" y="261" width="14" height="6" fill="#1e1e1e"/><rect x="146" y="289" width="9" height="6" fill="#1e1e1e"/><circle cx="318" cy="250" r="7" fill="none" stroke="#1e1e1e" stroke-width="5.90"/><rect x="213" y="234" width="10" height="10" fill="#1e1e1e"/><rect x="306" y="322" width="17" height="10" fill="none" stroke="#1e1e1e" stroke-width="5.90"/><circle cx="215" cy="303" r="7" fill="none" stroke="#1e1e1e" stroke-width="5.90"/><rect x="235" y="343" width="19" height="14" fill="none" stroke="#1e1e1e" stroke-width="5.90"/><rect x="283" y="258" width="12" height="7" fill="#1e1e1e"/><rect x="270" y="359" width="10" height="7" fill="#1e1e1e"/><rect x="144" y="234" width="16" height="8" fill="#1e1e1e"/><rect x="100" y="339" width="11" height="8" fill="#1e1e1e"/><rect x="175" y="237" width="12" height="12" fill="#1e1e1e"/><circle cx="218" cy="372" r="10" fill="none" stroke="#1e1e1e" stroke-width="5.90"/><rect x="223" y="295" width="24" height="20" fill="none" stroke="#1e1e1e" stroke-width="5.90"/><rect x="260" y="339" width="19" height="9" fill="#1e1e1e"/><rect x="116" y="231" width="12" height="11" fill="#1e1e1e"/><circle cx="154" cy="231" r="8" fill="none" stroke="#1e1e1e" stroke-width="5.90"/><rect x="92" y="229" width="13" height="13" fill="#1e1e1e"/><rect x="313" y="324" width="14" height="9" fill="#1e1e1e"/><circle cx="164" cy="222" r="10" fill="none" stroke="#1e1e1e" stroke-width="5.90"/><circle cx="259" cy="236" r="6" fill="none" stroke="#1e1e1e" stroke-width="5.90"/><rect x="255" y="296" width="27" height="11" fill="none" stroke="#1e1e1e" stroke-width="5.90"/><rect x="161" y="376" width="14" height="10" fill="#1e1e1e"/></g>
<path vector-effect="non-scaling-stroke" fill="#fafafa" stroke-width="2.12" d="M352,348 L395,352 L530,420 L548,448 L542,492 L505,492 L400,432 L358,402 Z"/>
<g clip-path="url(#ucR)"><circle cx="504" cy="485" r="11" fill="none" stroke="#1e1e1e" stroke-width="5.90"/><rect x="469" y="361" width="21" height="11" fill="none" stroke="#1e1e1e" stroke-width="5.90"/><circle cx="546" cy="350" r="8" fill="none" stroke="#1e1e1e" stroke-width="5.90"/><rect x="526" y="404" width="12" height="8" fill="#1e1e1e"/><circle cx="462" cy="399" r="6" fill="none" stroke="#1e1e1e" stroke-width="5.90"/><rect x="420" y="382" width="27" height="18" fill="none" stroke="#1e1e1e" stroke-width="5.90"/><rect x="474" y="405" width="20" height="10" fill="#1e1e1e"/><rect x="358" y="370" width="18" height="13" fill="#1e1e1e"/><rect x="390" y="465" width="18" height="13" fill="#1e1e1e"/><rect x="475" y="465" width="8" height="10" fill="#1e1e1e"/><rect x="467" y="373" width="12" height="6" fill="#1e1e1e"/><rect x="412" y="402" width="18" height="9" fill="#1e1e1e"/><rect x="546" y="467" width="25" height="17" fill="none" stroke="#1e1e1e" stroke-width="5.90"/><rect x="457" y="465" width="16" height="11" fill="#1e1e1e"/><rect x="454" y="388" width="9" height="9" fill="#1e1e1e"/><circle cx="466" cy="459" r="7" fill="none" stroke="#1e1e1e" stroke-width="5.90"/><circle cx="536" cy="386" r="5" fill="none" stroke="#1e1e1e" stroke-width="5.90"/><rect x="501" y="445" width="28" height="17" fill="none" stroke="#1e1e1e" stroke-width="5.90"/><circle cx="518" cy="456" r="6" fill="none" stroke="#1e1e1e" stroke-width="5.90"/><rect x="453" y="479" width="22" height="10" fill="#1e1e1e"/><rect x="429" y="345" width="10" height="11" fill="#1e1e1e"/><circle cx="530" cy="482" r="7" fill="none" stroke="#1e1e1e" stroke-width="5.90"/><circle cx="372" cy="448" r="9" fill="none" stroke="#1e1e1e" stroke-width="5.90"/><rect x="425" y="478" width="12" height="8" fill="#1e1e1e"/><rect x="474" y="480" width="17" height="12" fill="#1e1e1e"/><circle cx="395" cy="354" r="10" fill="none" stroke="#1e1e1e" stroke-width="5.90"/><rect x="526" y="454" width="14" height="10" fill="#1e1e1e"/><rect x="531" y="390" width="16" height="14" fill="#1e1e1e"/><rect x="387" y="350" width="16" height="11" fill="#1e1e1e"/><circle cx="387" cy="374" r="9" fill="none" stroke="#1e1e1e" stroke-width="5.90"/><rect x="488" y="454" width="15" height="13" fill="#1e1e1e"/><rect x="541" y="393" width="24" height="19" fill="none" stroke="#1e1e1e" stroke-width="5.90"/><rect x="396" y="450" width="22" height="11" fill="none" stroke="#1e1e1e" stroke-width="5.90"/><rect x="389" y="368" width="10" height="11" fill="#1e1e1e"/><circle cx="371" cy="459" r="10" fill="none" stroke="#1e1e1e" stroke-width="5.90"/><rect x="511" y="452" width="29" height="16" fill="none" stroke="#1e1e1e" stroke-width="5.90"/><rect x="543" y="360" width="9" height="8" fill="#1e1e1e"/><circle cx="425" cy="414" r="9" fill="none" stroke="#1e1e1e" stroke-width="5.90"/><circle cx="367" cy="405" r="7" fill="none" stroke="#1e1e1e" stroke-width="5.90"/><rect x="374" y="435" width="18" height="10" fill="#1e1e1e"/><rect x="543" y="487" width="19" height="12" fill="#1e1e1e"/><rect x="409" y="363" width="13" height="12" fill="#1e1e1e"/><rect x="534" y="402" width="15" height="12" fill="#1e1e1e"/><rect x="508" y="431" width="13" height="13" fill="#1e1e1e"/><rect x="454" y="353" width="11" height="11" fill="#1e1e1e"/><rect x="365" y="386" width="15" height="14" fill="#1e1e1e"/><rect x="458" y="403" width="15" height="14" fill="none" stroke="#1e1e1e" stroke-width="5.90"/><circle cx="512" cy="346" r="7" fill="none" stroke="#1e1e1e" stroke-width="5.90"/><rect x="353" y="383" width="13" height="10" fill="#1e1e1e"/><rect x="361" y="378" width="21" height="15" fill="none" stroke="#1e1e1e" stroke-width="5.90"/><rect x="367" y="387" width="25" height="15" fill="none" stroke="#1e1e1e" stroke-width="5.90"/><circle cx="361" cy="404" r="8" fill="none" stroke="#1e1e1e" stroke-width="5.90"/><circle cx="469" cy="480" r="9" fill="none" stroke="#1e1e1e" stroke-width="5.90"/><circle cx="357" cy="349" r="7" fill="none" stroke="#1e1e1e" stroke-width="5.90"/><rect x="525" y="469" width="20" height="20" fill="none" stroke="#1e1e1e" stroke-width="5.90"/><rect x="501" y="479" width="19" height="9" fill="#1e1e1e"/><rect x="544" y="494" width="14" height="8" fill="#1e1e1e"/><circle cx="444" cy="388" r="6" fill="none" stroke="#1e1e1e" stroke-width="5.90"/><rect x="384" y="414" width="13" height="13" fill="#1e1e1e"/><rect x="527" y="374" width="20" height="14" fill="#1e1e1e"/><rect x="470" y="365" width="21" height="14" fill="#1e1e1e"/><rect x="356" y="373" width="12" height="12" fill="#1e1e1e"/><rect x="425" y="461" width="15" height="14" fill="#1e1e1e"/><rect x="490" y="359" width="17" height="9" fill="#1e1e1e"/><circle cx="424" cy="417" r="11" fill="none" stroke="#1e1e1e" stroke-width="5.90"/><rect x="398" y="430" width="16" height="12" fill="#1e1e1e"/><circle cx="377" cy="417" r="5" fill="none" stroke="#1e1e1e" stroke-width="5.90"/><circle cx="504" cy="408" r="9" fill="none" stroke="#1e1e1e" stroke-width="5.90"/><circle cx="509" cy="353" r="5" fill="none" stroke="#1e1e1e" stroke-width="5.90"/><rect x="427" y="397" width="12" height="10" fill="#1e1e1e"/><rect x="481" y="484" width="15" height="12" fill="#1e1e1e"/><rect x="537" y="487" width="19" height="12" fill="none" stroke="#1e1e1e" stroke-width="5.90"/><rect x="536" y="357" width="18" height="10" fill="#1e1e1e"/><rect x="428" y="484" width="16" height="13" fill="#1e1e1e"/><rect x="378" y="398" width="16" height="8" fill="#1e1e1e"/><rect x="441" y="354" width="13" height="7" fill="#1e1e1e"/><rect x="544" y="384" width="19" height="12" fill="#1e1e1e"/><circle cx="402" cy="469" r="7" fill="none" stroke="#1e1e1e" stroke-width="5.90"/><rect x="476" y="382" width="20" height="10" fill="#1e1e1e"/><rect x="529" y="372" width="9" height="12" fill="#1e1e1e"/><rect x="462" y="346" width="20" height="10" fill="#1e1e1e"/><circle cx="524" cy="351" r="6" fill="none" stroke="#1e1e1e" stroke-width="5.90"/><circle cx="494" cy="437" r="6" fill="none" stroke="#1e1e1e" stroke-width="5.90"/><rect x="540" y="362" width="18" height="7" fill="#1e1e1e"/><circle cx="363" cy="414" r="10" fill="none" stroke="#1e1e1e" stroke-width="5.90"/><circle cx="494" cy="355" r="10" fill="none" stroke="#1e1e1e" stroke-width="5.90"/><rect x="374" y="458" width="12" height="6" fill="#1e1e1e"/><rect x="502" y="422" width="21" height="12" fill="none" stroke="#1e1e1e" stroke-width="5.90"/><rect x="393" y="385" width="17" height="11" fill="none" stroke="#1e1e1e" stroke-width="5.90"/><rect x="421" y="357" width="17" height="11" fill="#1e1e1e"/><rect x="385" y="366" width="18" height="10" fill="#1e1e1e"/><rect x="465" y="482" width="12" height="10" fill="#1e1e1e"/><circle cx="457" cy="480" r="9" fill="none" stroke="#1e1e1e" stroke-width="5.90"/><rect x="434" y="463" width="19" height="11" fill="none" stroke="#1e1e1e" stroke-width="5.90"/><rect x="402" y="399" width="18" height="16" fill="none" stroke="#1e1e1e" stroke-width="5.90"/><rect x="478" y="488" width="19" height="9" fill="#1e1e1e"/><rect x="371" y="440" width="23" height="10" fill="none" stroke="#1e1e1e" stroke-width="5.90"/><circle cx="544" cy="403" r="9" fill="none" stroke="#1e1e1e" stroke-width="5.90"/><rect x="402" y="406" width="9" height="7" fill="#1e1e1e"/><rect x="493" y="407" width="15" height="13" fill="none" stroke="#1e1e1e" stroke-width="5.90"/></g>
<!-- frame body -->
<path vector-effect="non-scaling-stroke" fill="#fafafa" d="M60,173 L90,163 L96,113 L140,130 L152,128 L322,45 L335,42 L600,170 L747,239 L751,329 L765,335 L765,350 L525,412 L505,400 L406,340 L146,222 L103,205 L63,185 Z"/>
<path vector-effect="non-scaling-stroke" stroke-width="2.60" d="M140,133 L510,305 L747,239"/>
<path vector-effect="non-scaling-stroke" d="M148,150 L505,318 M60,173 L103,192 M96,113 L103,205 M140,130 L146,222 M200,233 L216,212 L386,286 L406,338 M510,305 L515,400 M146,222 L406,340 M406,340 L505,390"/>
<path vector-effect="non-scaling-stroke" d="M108,150 L126,157 L126,170 L108,163 Z M170,190 L188,197 L188,210 L170,203 Z"/>
<circle vector-effect="non-scaling-stroke" cx="260" cy="240" r="9"/><circle vector-effect="non-scaling-stroke" cx="293" cy="256" r="9"/><circle vector-effect="non-scaling-stroke" cx="370" cy="293" r="9"/>
<path vector-effect="non-scaling-stroke" d="M152,128 L322,45 L325,100 M200,130 L240,115 L330,150 M215,135 L250,120 L260,135 L230,148 Z M320,46 L426,100 L423,140 M330,60 L330,100 L420,140 M293,103 L373,140 L350,160 L300,140 Z M373,140 L373,170 L440,200 M440,200 L600,175 M480,255 L600,200 L740,240 M420,150 L600,230"/>
<path vector-effect="non-scaling-stroke" stroke-width="2.15" d="M366,193 L413,176 L480,203 L433,223 Z M380,195 L413,183 L465,203 L433,216 Z"/>
<path vector-effect="non-scaling-stroke" d="M510,165 Q525,150 545,165 L545,185 Q525,195 510,180 Z"/>
<path vector-effect="non-scaling-stroke" d="M550,277 L597,273 L597,355 L550,363 Z M644,260 L696,252 L700,320 L644,329 Z M597,273 L644,260 M597,355 L644,329 M530,290 L530,395 M720,245 L722,322"/>
<path vector-effect="non-scaling-stroke" d="M258,110 Q268,100 278,112 M570,200 Q580,192 590,204 M470,230 Q480,222 490,234"/>
<circle vector-effect="non-scaling-stroke" cx="335" cy="50" r="5"/><circle vector-effect="non-scaling-stroke" cx="265" cy="113" r="5"/><circle vector-effect="non-scaling-stroke" cx="582" cy="200" r="5"/><circle vector-effect="non-scaling-stroke" cx="545" cy="235" r="5"/>
<!-- pufferbohle front -->
<path vector-effect="non-scaling-stroke" fill="#fafafa" d="M540,412 L640,385 L660,370 L760,345 L765,330 L770,350 L670,378 L650,395 L545,425 Z"/>
<path vector-effect="non-scaling-stroke" fill="#fafafa" d="M680,385 L750,365 L755,425 L720,445 L685,430 Z M545,420 L605,405 L608,460 L570,475 L545,460 Z"/>
<path vector-effect="non-scaling-stroke" stroke-width="2.30" d="M710,430 L710,460 M725,425 L725,455 M560,470 L560,500 M575,470 L575,505"/>
<path vector-effect="non-scaling-stroke" fill="#2a2a2a" d="M640,378 L660,372 L660,395 L640,400 Z"/>
<!-- screws 46 -->
<path vector-effect="non-scaling-stroke" d="M0,262 L90,352 M140,402 L245,502"/>
<path vector-effect="non-scaling-stroke" fill="#fafafa" d="M105,425 L108,465 L125,465 L125,425 Q115,418 105,425 Z M82,465 Q82,452 115,455 Q145,455 145,467 Q145,485 115,485 Q82,485 82,465 Z"/>
<path vector-effect="non-scaling-stroke" d="M115,410 L115,425"/>
<path vector-effect="non-scaling-stroke" fill="#fafafa" d="M258,390 Q268,380 278,390 L278,432 L258,432 Z M235,440 Q235,428 268,430 Q300,430 300,442 Q300,455 268,455 Q235,455 235,440 Z M262,455 L262,480"/>
<!-- screw bottom right -->
<path vector-effect="non-scaling-stroke" fill="#fafafa" d="M738,480 L765,488 L768,500 L740,492 Z"/>
<ellipse vector-effect="non-scaling-stroke" fill="#fafafa" cx="775" cy="497" rx="18" ry="22"/>
<path vector-effect="non-scaling-stroke" d="M675,290 L800,290"/>
</g>
</g>
<!-- M4 origin 600,390 f .21608 -->
<g transform="translate(600,390) scale(0.21608)" fill="none" stroke="#161616" stroke-linejoin="round" stroke-linecap="round">
<g stroke-width="1.84">
<path vector-effect="non-scaling-stroke" d="M505,108 L680,108"/>
<path vector-effect="non-scaling-stroke" fill="#fafafa" d="M222,150 L258,130 L412,205 L440,225 L462,282 L450,308 L385,288 L232,212 Z"/>
<path vector-effect="non-scaling-stroke" d="M258,130 L250,150 L400,222 L440,225 M400,222 L385,288"/>
<circle vector-effect="non-scaling-stroke" cx="265" cy="162" r="12"/>
<circle vector-effect="non-scaling-stroke" cx="392" cy="222" r="12"/>
<circle vector-effect="non-scaling-stroke" cx="300" cy="182" r="10"/>
<path vector-effect="non-scaling-stroke" fill="#3a3a3a" d="M235,200 L285,218 L285,230 L235,212 Z M392,275 L445,290 L445,300 L392,285 Z M300,210 L360,240 L360,265 L300,235 Z"/>
<path vector-effect="non-scaling-stroke" d="M420,255 L535,260"/>
<!-- screw -->
<path vector-effect="non-scaling-stroke" fill="#fafafa" d="M430,562 L450,568 L455,585 L432,578 Z"/>
<ellipse vector-effect="non-scaling-stroke" fill="#fafafa" cx="470" cy="575" rx="22" ry="24"/>
<path vector-effect="non-scaling-stroke" fill="#fafafa" d="M255,605 L280,610 L285,630 L258,622 Z"/>
<ellipse vector-effect="non-scaling-stroke" fill="#fafafa" cx="296" cy="626" rx="20" ry="22"/>
</g>
</g>
<!-- M5 origin 375,440 f .20408 -->
<g transform="translate(375,440) scale(0.20408)" fill="none" stroke="#161616" stroke-linejoin="round" stroke-linecap="round">
<g stroke-width="1.84">
<path vector-effect="non-scaling-stroke" d="M105,108 L450,108 L580,240 M80,320 L230,320 M635,290 L770,420 M605,300 L605,345 M778,360 L778,420"/>
<path vector-effect="non-scaling-stroke" fill="#fafafa" d="M230,215 L270,210 L330,240 L440,290 L462,312 L495,385 L500,445 L465,452 L375,410 L375,350 L350,342 L350,375 L322,382 L205,330 L200,265 Z"/>
<path vector-effect="non-scaling-stroke" d="M200,265 L345,318 L350,342 M345,318 L345,375 M230,215 L215,262 M375,350 L495,388 M330,298 L335,318 M270,210 L262,235 L440,300 L462,312"/>
<path vector-effect="non-scaling-stroke" stroke-width="2.30" d="M215,285 L217,330 M295,318 L298,378 M390,365 L394,412 M440,395 L444,442 M465,400 L468,450"/>
<path vector-effect="non-scaling-stroke" fill="#fafafa" d="M592,348 Q605,338 620,348 L622,392 L592,392 Z M578,398 Q578,385 606,386 Q635,386 635,398 Q635,412 606,412 Q578,412 578,398 Z"/>
<path vector-effect="non-scaling-stroke" fill="#fafafa" d="M768,300 Q782,285 798,300 L798,340 L768,340 Z M758,348 Q758,336 785,336 Q812,336 812,348 Q812,360 785,360 Q758,360 758,348 Z"/>
</g>
</g>
<!-- B1 origin 470,545 f .22810 -->
<g transform="translate(470,545) scale(0.22810)" fill="none" stroke="#161616" stroke-linejoin="round" stroke-linecap="round">
<g stroke-width="1.84">
<path vector-effect="non-scaling-stroke" d="M95,65 L270,65"/>
<path vector-effect="non-scaling-stroke" fill="#fafafa" d="M182,52 L295,22 L430,98 L470,102 L530,142 L542,168 L740,232 L745,255 L660,295 L640,285 L600,248 L490,200 L385,150 L330,140 L230,98 L182,72 Z"/>
<path vector-effect="non-scaling-stroke" d="M182,52 L330,122 L385,130 L490,180 L600,228 L640,265 L745,232 M330,122 L330,140 M385,130 L385,150 M490,180 L490,200 M640,265 L660,295 M430,98 L385,130 M530,142 L490,180 M220,80 L220,100 M600,250 L620,280"/>
<ellipse vector-effect="non-scaling-stroke" cx="320" cy="78" rx="36" ry="15"/>
<ellipse vector-effect="non-scaling-stroke" cx="598" cy="212" rx="32" ry="15"/>
<path vector-effect="non-scaling-stroke" stroke-width="2.45" d="M452,85 L455,120 M470,80 L472,125"/>
<circle vector-effect="non-scaling-stroke" cx="245" cy="40" r="6"/>
<circle vector-effect="non-scaling-stroke" cx="660" cy="225" r="6"/>
<path vector-effect="non-scaling-stroke" d="M95,213 L290,213 M95,408 L300,408 M620,335 L805,335 M730,430 L805,430"/>
</g>
</g>
<!-- wheels B1 -->
<g transform="translate(470,545) scale(0.22810)" fill="none" stroke="#161616" stroke-width="1.77" stroke-linejoin="round">
<ellipse vector-effect="non-scaling-stroke" fill="#fafafa" stroke-width="2.12" cx="333" cy="239" rx="48" ry="68" transform="rotate(-10 333 239)"/>
<ellipse vector-effect="non-scaling-stroke" fill="#fafafa" cx="317" cy="242" rx="44" ry="64" transform="rotate(-10 317 242)"/>
<ellipse vector-effect="non-scaling-stroke" fill="#fafafa" cx="305" cy="245" rx="40" ry="58" transform="rotate(-10 305 245)"/>
<ellipse vector-effect="non-scaling-stroke" fill="#fafafa" cx="299" cy="253" rx="18" ry="24" transform="rotate(-10 299 253)"/>
<path vector-effect="non-scaling-stroke" fill="#fafafa" d="M185,319 L302,264 L292,242 L175,297 Z"/>
<ellipse vector-effect="non-scaling-stroke" fill="#fafafa" stroke-width="2.12" cx="210" cy="300" rx="50" ry="72" transform="rotate(-10 210 300)"/>
<ellipse vector-effect="non-scaling-stroke" fill="#fafafa" cx="194" cy="304" rx="46" ry="66" transform="rotate(-10 194 304)"/>
<ellipse vector-effect="non-scaling-stroke" fill="#fafafa" cx="180" cy="308" rx="40" ry="58" transform="rotate(-10 180 308)"/>
<ellipse vector-effect="non-scaling-stroke" fill="#585858" cx="180" cy="310" rx="29" ry="43" transform="rotate(-10 180 310)"/>
<ellipse vector-effect="non-scaling-stroke" fill="none" stroke="#fafafa" stroke-width="1.89" stroke-dasharray="2 2.5" cx="180" cy="310" rx="18" ry="27" transform="rotate(-10 180 310)"/>
<circle vector-effect="non-scaling-stroke" fill="#fafafa" stroke="none" cx="180" cy="310" r="6"/>
<ellipse vector-effect="non-scaling-stroke" fill="#fafafa" stroke-width="2.12" cx="468" cy="299" rx="48" ry="68" transform="rotate(-10 468 299)"/>
<ellipse vector-effect="non-scaling-stroke" fill="#fafafa" cx="452" cy="302" rx="44" ry="64" transform="rotate(-10 452 302)"/>
<ellipse vector-effect="non-scaling-stroke" fill="#fafafa" cx="440" cy="305" rx="40" ry="58" transform="rotate(-10 440 305)"/>
<ellipse vector-effect="non-scaling-stroke" fill="#fafafa" cx="434" cy="313" rx="18" ry="24" transform="rotate(-10 434 313)"/>
<path vector-effect="non-scaling-stroke" fill="#fafafa" d="M310,379 L437,324 L427,302 L300,357 Z"/>
<ellipse vector-effect="non-scaling-stroke" fill="#fafafa" stroke-width="2.12" cx="335" cy="360" rx="50" ry="72" transform="rotate(-10 335 360)"/>
<ellipse vector-effect="non-scaling-stroke" fill="#fafafa" cx="319" cy="364" rx="46" ry="66" transform="rotate(-10 319 364)"/>
<ellipse vector-effect="non-scaling-stroke" fill="#fafafa" cx="305" cy="368" rx="40" ry="58" transform="rotate(-10 305 368)"/>
<ellipse vector-effect="non-scaling-stroke" fill="#585858" cx="305" cy="370" rx="29" ry="43" transform="rotate(-10 305 370)"/>
<ellipse vector-effect="non-scaling-stroke" fill="none" stroke="#fafafa" stroke-width="1.89" stroke-dasharray="2 2.5" cx="305" cy="370" rx="18" ry="27" transform="rotate(-10 305 370)"/>
<circle vector-effect="non-scaling-stroke" fill="#fafafa" stroke="none" cx="305" cy="370" r="6"/>
<ellipse vector-effect="non-scaling-stroke" fill="#fafafa" stroke-width="2.12" cx="618" cy="369" rx="48" ry="68" transform="rotate(-10 618 369)"/>
<ellipse vector-effect="non-scaling-stroke" fill="#fafafa" cx="602" cy="372" rx="44" ry="64" transform="rotate(-10 602 372)"/>
<ellipse vector-effect="non-scaling-stroke" fill="#fafafa" cx="590" cy="375" rx="40" ry="58" transform="rotate(-10 590 375)"/>
<ellipse vector-effect="non-scaling-stroke" fill="#fafafa" cx="584" cy="383" rx="18" ry="24" transform="rotate(-10 584 383)"/>
<path vector-effect="non-scaling-stroke" fill="#fafafa" d="M454,441 L586,394 L578,372 L446,419 Z"/>
<ellipse vector-effect="non-scaling-stroke" fill="#fafafa" stroke-width="2.12" cx="480" cy="422" rx="50" ry="72" transform="rotate(-10 480 422)"/>
<ellipse vector-effect="non-scaling-stroke" fill="#fafafa" cx="464" cy="426" rx="46" ry="66" transform="rotate(-10 464 426)"/>
<ellipse vector-effect="non-scaling-stroke" fill="#fafafa" cx="450" cy="430" rx="40" ry="58" transform="rotate(-10 450 430)"/>
<ellipse vector-effect="non-scaling-stroke" fill="#585858" cx="450" cy="432" rx="29" ry="43" transform="rotate(-10 450 432)"/>
<ellipse vector-effect="non-scaling-stroke" fill="none" stroke="#fafafa" stroke-width="1.89" stroke-dasharray="2 2.5" cx="450" cy="432" rx="18" ry="27" transform="rotate(-10 450 432)"/>
<circle vector-effect="non-scaling-stroke" fill="#fafafa" stroke="none" cx="450" cy="432" r="6"/>
<ellipse vector-effect="non-scaling-stroke" fill="#fafafa" stroke-width="2.12" cx="728" cy="434" rx="48" ry="68" transform="rotate(-10 728 434)"/>
<ellipse vector-effect="non-scaling-stroke" fill="#fafafa" cx="712" cy="437" rx="44" ry="64" transform="rotate(-10 712 437)"/>
<ellipse vector-effect="non-scaling-stroke" fill="#fafafa" cx="700" cy="440" rx="40" ry="58" transform="rotate(-10 700 440)"/>
<ellipse vector-effect="non-scaling-stroke" fill="#fafafa" cx="694" cy="448" rx="18" ry="24" transform="rotate(-10 694 448)"/>
<path vector-effect="non-scaling-stroke" fill="#fafafa" d="M568,497 L695,460 L689,436 L562,473 Z"/>
<ellipse vector-effect="non-scaling-stroke" fill="#fafafa" stroke-width="2.12" cx="595" cy="477" rx="50" ry="72" transform="rotate(-10 595 477)"/>
<ellipse vector-effect="non-scaling-stroke" fill="#fafafa" cx="579" cy="481" rx="46" ry="66" transform="rotate(-10 579 481)"/>
<ellipse vector-effect="non-scaling-stroke" fill="#fafafa" cx="565" cy="485" rx="40" ry="58" transform="rotate(-10 565 485)"/>
<ellipse vector-effect="non-scaling-stroke" fill="#585858" cx="565" cy="487" rx="29" ry="43" transform="rotate(-10 565 487)"/>
<ellipse vector-effect="non-scaling-stroke" fill="none" stroke="#fafafa" stroke-width="1.89" stroke-dasharray="2 2.5" cx="565" cy="487" rx="18" ry="27" transform="rotate(-10 565 487)"/>
<circle vector-effect="non-scaling-stroke" fill="#fafafa" stroke="none" cx="565" cy="487" r="6"/>
</g>
<!-- B2 origin 470,650 f .32414 -->
<g transform="translate(470,650) scale(0.32414)" fill="none" stroke="#161616" stroke-linejoin="round" stroke-linecap="round">
<g stroke-width="1.84">
<path vector-effect="non-scaling-stroke" d="M65,88 L195,90 M150,185 L210,185 M325,287 L400,287 M670,170 L725,170 M520,75 L570,75"/>
<!-- screw 48 -->
<path vector-effect="non-scaling-stroke" fill="#fafafa" d="M210,158 Q221,145 232,158 L232,205 L210,205 Z M200,212 Q200,204 221,204 Q242,204 242,212 Q242,220 221,220 Q200,220 200,212 Z"/>
<path vector-effect="non-scaling-stroke" fill="#fafafa" d="M405,255 Q416,242 428,255 L428,303 L405,303 Z M395,310 Q395,302 416,302 Q438,302 438,310 Q438,318 416,318 Q395,318 395,310 Z"/>
<!-- clip -->
</g>
</g>
<!-- part 32 P origin 505,650 f .16807 -->
<g transform="translate(505,650) scale(0.16807)" fill="none" stroke="#161616" stroke-linejoin="round" stroke-linecap="round">
<g stroke-width="1.89">
<path vector-effect="non-scaling-stroke" fill="#fafafa" d="M35,85 L60,70 L180,55 L210,78 L260,85 L375,140 L395,125 L440,125 L500,165 L540,195 L560,260 L590,275 L700,300 L720,315 L790,345 L795,400 L665,445 L640,430 L470,330 L410,280 L320,240 L260,245 L220,215 L75,150 L40,130 Z"/>
<path vector-effect="non-scaling-stroke" d="M35,85 L80,110 L75,150 M80,110 L205,78 M95,118 L330,215 L375,140 M120,105 L350,180 M220,170 L222,215 M270,180 L280,240 M330,215 L320,240"/>
<path vector-effect="non-scaling-stroke" d="M375,140 L400,150 L500,195 L525,250 L560,260 M400,150 L395,125 M500,195 L540,195 M430,210 L460,320 L470,330 M410,230 L430,300 M470,330 L640,360 L780,330 M640,360 L665,400 L665,445 M665,400 L795,365 M520,260 L700,300"/>
<path vector-effect="non-scaling-stroke" fill="#fafafa" d="M205,120 L205,140 Q230,160 255,140 L255,120"/>
<ellipse vector-effect="non-scaling-stroke" fill="#fafafa" cx="230" cy="120" rx="25" ry="14"/>
<ellipse vector-effect="non-scaling-stroke" cx="230" cy="120" rx="12" ry="7"/>
<path vector-effect="non-scaling-stroke" fill="#fafafa" d="M565,300 L565,320 Q590,340 615,320 L615,300"/>
<ellipse vector-effect="non-scaling-stroke" fill="#fafafa" cx="590" cy="300" rx="25" ry="14"/>
<ellipse vector-effect="non-scaling-stroke" cx="590" cy="300" rx="12" ry="7"/>
<path vector-effect="non-scaling-stroke" fill="#fafafa" d="M110,42 Q120,35 130,42 L130,78 L110,78 Z M678,288 Q688,280 698,288 L698,322 L678,322 Z M600,365 L604,398 L614,398 L612,365"/>
<path vector-effect="non-scaling-stroke" d="M680,370 L700,375 L705,395 L685,392 Z"/>
</g>
</g>
<!-- clip & coupler Q origin 600,660 f .12005 -->
<g transform="translate(600,660) scale(0.12005)" fill="none" stroke="#161616" stroke-linejoin="round" stroke-linecap="round">
<g stroke-width="1.89">
<path vector-effect="non-scaling-stroke" fill="#fafafa" d="M160,150 L300,128 L320,180 L330,200 L180,228 L165,205 Z M165,205 L320,180"/>
<path vector-effect="non-scaling-stroke" stroke-width="2.60" d="M100,140 L160,118 L330,125 M170,140 L175,212 M300,130 L308,192 M230,120 L240,190 M200,90 L215,160 M260,80 L290,75"/>
<circle vector-effect="non-scaling-stroke" fill="#fafafa" cx="202" cy="85" r="16"/>
<path vector-effect="non-scaling-stroke" d="M330,125 L445,125"/>
<path vector-effect="non-scaling-stroke" fill="#fafafa" d="M500,300 L700,258 L712,322 L740,370 L720,410 L640,432 L560,420 L520,410 L505,340 Z"/>
<path vector-effect="non-scaling-stroke" d="M505,320 L630,350 L712,322 M630,350 L640,432 M520,335 L600,352 L600,385 L525,370 M560,420 L550,455 Q555,465 565,455 L568,422 M740,372 L833,378"/>
<circle vector-effect="non-scaling-stroke" fill="#fafafa" cx="425" cy="265" r="15"/><circle vector-effect="non-scaling-stroke" fill="#fafafa" cx="482" cy="248" r="15"/><circle vector-effect="non-scaling-stroke" fill="#fafafa" cx="432" cy="298" r="13"/>
<path vector-effect="non-scaling-stroke" d="M440,270 L505,300 M495,255 L520,290 M445,300 L505,320"/>
</g>
</g>
<g font-family="Liberation Sans" font-size="12" fill="#141414" stroke="#141414" stroke-width="0.3" letter-spacing="0.3">
<text x="653.5" y="136.8">55</text>
<text x="757.7" y="215.8">26</text>
<text x="693.0" y="239.0">27</text>
<text x="654.3" y="308.6">27</text>
<text x="698.0" y="332.3">55</text>
<text x="707.8" y="313.8">55</text>
<text x="632.4" y="298.2">56</text>
<text x="439.0" y="348.9">28a</text>
<text x="625.6" y="355.4">47</text>
<text x="667.0" y="382.8">28</text>
<text x="690.4" y="417.7">29</text>
<text x="715.9" y="450.5">55</text>
<text x="673.3" y="478.0">34</text>
<text x="378.2" y="509.4">55</text>
<text x="491.5" y="500.2">46</text>
<text x="527.2" y="535.9">46</text>
<text x="477.2" y="563.7">30</text>
<text x="479.2" y="597.9">31</text>
<text x="479.2" y="642.4">31</text>
<text x="654.1" y="626.6">31</text>
<text x="654.1" y="647.5">31</text>
<text x="476.2" y="684.0">32</text>
<text x="504.2" y="714.8">48</text>
<text x="561.6" y="747.2">48</text>
<text x="705.2" y="710.0">33</text>
<text x="378.5" y="351.2" font-size="13.8" letter-spacing="0">G</text>
<text x="378.5" y="379.5" font-size="13.8" letter-spacing="0">H</text>
<text x="670.3" y="355.8" font-size="13.8" letter-spacing="0">B</text>
<text x="724.0" y="383.4" font-size="13.8" letter-spacing="0">C</text>
<text x="752.4" y="418.5" font-size="13.8" letter-spacing="0">D</text>
<text x="379.0" y="466.1" font-size="13.8" letter-spacing="0">A</text>
</g>
</svg>

</body></html>
